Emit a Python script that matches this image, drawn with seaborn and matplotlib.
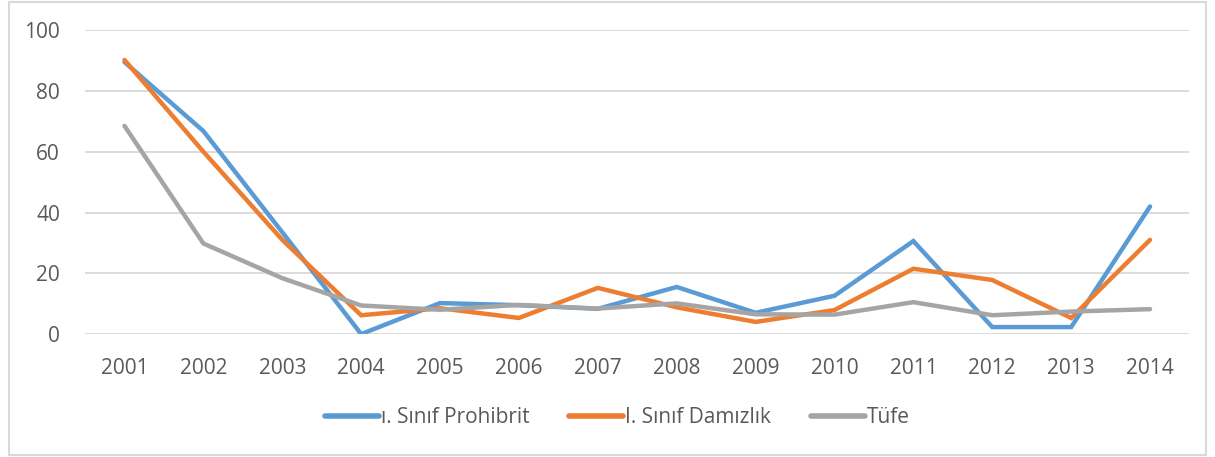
import matplotlib
matplotlib.use("Agg")
import matplotlib.pyplot as plt
import seaborn as sns
import pandas as pd
from matplotlib.patches import Rectangle

years = [2001, 2002, 2003, 2004, 2005, 2006, 2007, 2008, 2009, 2010, 2011, 2012, 2013, 2014]
prohibrit = [89.5, 66.8, 33.5, 0.0, 10.2, 9.5, 8.3, 15.5, 7.0, 12.6, 30.6, 2.3, 2.3, 42.0]
damizlik = [90.2, 60.0, 31.0, 6.2, 8.5, 5.3, 15.2, 8.8, 4.0, 7.9, 21.5, 17.8, 5.3, 31.0]
tufe = [68.5, 29.8, 18.4, 9.4, 8.0, 9.6, 8.4, 10.1, 6.5, 6.4, 10.5, 6.2, 7.4, 8.2]
series_names = ["ı. Sınıf Prohibrit", "I. Sınıf Damızlık", "Tüfe"]
colors = ["#5B9BD5", "#ED7D31", "#A5A5A5"]

rows = []
for name, vals in zip(series_names, [prohibrit, damizlik, tufe]):
    for i, (y, v) in enumerate(zip(years, vals)):
        rows.append({"idx": i, "year": str(y), "value": v, "series": name})
df = pd.DataFrame(rows)

sns.set_style("white")
plt.rcParams["font.family"] = ["Open Sans", "DejaVu Sans"]

fig = plt.figure(figsize=(12.15, 4.57), dpi=100)
ax = fig.add_axes([0.07, 0.269, 0.909, 0.665])

sns.lineplot(data=df, x="idx", y="value", hue="series", palette=colors,
             hue_order=series_names, linewidth=3.2, ax=ax, legend=True,
             solid_capstyle="round", solid_joinstyle="miter")

ax.set_xlim(-0.5, len(years) - 0.5)
ax.set_ylim(0, 100)
ax.set_yticks([0, 20, 40, 60, 80, 100])
ax.set_xticks(range(len(years)))
ax.set_xticklabels([str(y) for y in years])
ax.set_xlabel("")
ax.set_ylabel("")
ax.grid(axis="y", color="#D9D9D9", linewidth=1.3)
ax.set_axisbelow(True)
for s in ax.spines.values():
    s.set_visible(False)
ax.tick_params(axis="both", length=0, labelsize=15, colors="#595959")
ax.tick_params(axis="x", pad=17)
ax.tick_params(axis="y", pad=18)

handles, labels = ax.get_legend_handles_labels()
leg = ax.legend(handles, labels, loc="center", bbox_to_anchor=(0.482, -0.275), ncol=3,
                frameon=False, fontsize=15, handlelength=2.6, handletextpad=0.1,
                columnspacing=1.9, labelcolor="#595959")
for h in leg.get_lines():
    h.set_linewidth(4)
    h.set_solid_capstyle("round")

fig.patches.append(Rectangle((0.007, 0.005), 0.986, 0.99, transform=fig.transFigure,
                             fill=False, edgecolor="#D9D9D9", linewidth=1.5))

fig.savefig("out.png", dpi=100, facecolor="white")
